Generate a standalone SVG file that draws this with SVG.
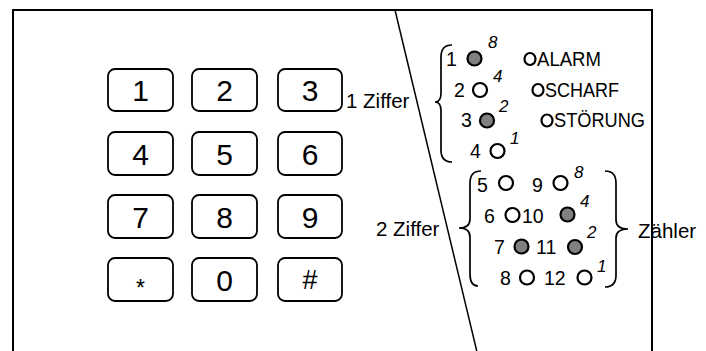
<svg xmlns="http://www.w3.org/2000/svg" width="706" height="351" viewBox="0 0 706 351">
<style>
text{font-family:"Liberation Sans",Arial,sans-serif;fill:#000}
.key rect{fill:#fff;stroke:#000;stroke-width:1.8}
.key text{font-size:30px;text-anchor:middle}
.lbl{font-size:20.5px}
.led{font-size:19.5px}
.sup{font-size:17px;font-style:italic}
.on{fill:#808080;stroke:#000;stroke-width:2.2}
.off{fill:#fff;stroke:#000;stroke-width:2.2}
.brace{fill:none;stroke:#000;stroke-width:1.7}
</style>
<rect width="706" height="351" fill="#fff"/>
<g id="frame">
<path d="M13,352 L13,10 L652,10 L652,352" fill="none" stroke="#000" stroke-width="2"/>
<line x1="395" y1="10" x2="477" y2="352" stroke="#000" stroke-width="1.5"/>
</g>
<g id="keypad">
<g class="key" id="k1"><rect x="108" y="69" width="65" height="42" rx="7"/><text x="140.5" y="101">1</text></g>
<g class="key" id="k2"><rect x="192" y="69" width="65" height="42" rx="7"/><text x="224.5" y="101">2</text></g>
<g class="key" id="k3"><rect x="278" y="69" width="64" height="42" rx="7"/><text x="310" y="101">3</text></g>
<g class="key" id="k4"><rect x="108" y="132" width="65" height="43" rx="7"/><text x="140.5" y="165">4</text></g>
<g class="key" id="k5"><rect x="192" y="132" width="65" height="43" rx="7"/><text x="224.5" y="165">5</text></g>
<g class="key" id="k6"><rect x="278" y="132" width="64" height="43" rx="7"/><text x="310" y="165">6</text></g>
<g class="key" id="k7"><rect x="108" y="195" width="65" height="43" rx="7"/><text x="140.5" y="228">7</text></g>
<g class="key" id="k8"><rect x="192" y="195" width="65" height="43" rx="7"/><text x="224.5" y="228">8</text></g>
<g class="key" id="k9"><rect x="278" y="195" width="64" height="43" rx="7"/><text x="310" y="228">9</text></g>
<g class="key" id="kstar"><rect x="108" y="258" width="65" height="43" rx="7"/><text x="140.5" y="296" style="font-size:23px">*</text></g>
<g class="key" id="k0"><rect x="192" y="258" width="65" height="43" rx="7"/><text x="224.5" y="291">0</text></g>
<g class="key" id="khash"><rect x="278" y="258" width="64" height="43" rx="7"/><text x="310" y="289" style="font-size:27px">#</text></g>
</g>
<g id="labels">
<text class="lbl" x="346" y="108">1 Ziffer</text>
<text class="lbl" x="376" y="236">2 Ziffer</text>
<text class="lbl" x="638" y="238">Zähler</text>
</g>
<g id="braces">
<path class="brace" d="M452,45 Q441,45 441,57 L441,93 Q441,102 435,102 Q441,102 441,111 L441,150 Q441,162 452,162"/>
<path class="brace" d="M481,171 Q470,171 470,183 L470,219 Q470,228 459,228 Q470,228 470,237 L470,274 Q470,286 478,286"/>
<path class="brace" d="M605,171 Q616,171 616,183 L616,220 Q616,229 628,229 Q616,229 616,238 L616,275 Q616,287 605,287"/>
</g>
<g id="status">
<ellipse class="off" cx="530" cy="59" rx="5.5" ry="6"/><text class="led" x="537" y="66" textLength="64" lengthAdjust="spacingAndGlyphs">ALARM</text>
<ellipse class="off" cx="538" cy="90" rx="5.5" ry="6"/><text class="led" x="545" y="97" textLength="74" lengthAdjust="spacingAndGlyphs">SCHARF</text>
<ellipse class="off" cx="547" cy="120.5" rx="5.5" ry="6"/><text class="led" x="554" y="127" textLength="91" lengthAdjust="spacingAndGlyphs">STÖRUNG</text>
</g>
<g id="digit1">
<text class="led" x="446" y="66">1</text><circle class="on" cx="474.5" cy="58.5" r="7"/><text class="sup" x="488" y="48">8</text>
<text class="led" x="454" y="97">2</text><circle class="off" cx="480" cy="90" r="7"/><text class="sup" x="493" y="82">4</text>
<text class="led" x="461" y="127">3</text><circle class="on" cx="487" cy="120.5" r="7"/><text class="sup" x="499" y="112">2</text>
<text class="led" x="470" y="158">4</text><circle class="off" cx="497.5" cy="151" r="7"/><text class="sup" x="510" y="144">1</text>
</g>
<g id="digit2">
<text class="led" x="477" y="192">5</text><circle class="off" cx="506" cy="183" r="7"/>
<text class="led" x="532" y="192">9</text><circle class="off" cx="560.5" cy="183" r="7"/><text class="sup" x="574" y="178">8</text>
<text class="led" x="484" y="223">6</text><circle class="off" cx="512.5" cy="215" r="7"/>
<text class="led" x="522" y="223">10</text><circle class="on" cx="567.5" cy="214.5" r="7"/><text class="sup" x="580" y="207">4</text>
<text class="led" x="494" y="254">7</text><circle class="on" cx="521.5" cy="246.5" r="7"/>
<text class="led" x="536" y="254">11</text><circle class="on" cx="575" cy="247" r="7"/><text class="sup" x="587" y="238">2</text>
<text class="led" x="500" y="285">8</text><circle class="off" cx="527" cy="277.5" r="7"/>
<text class="led" x="544" y="285">12</text><circle class="off" cx="584.5" cy="277.5" r="7"/><text class="sup" x="597" y="272">1</text>
</g>
</svg>
